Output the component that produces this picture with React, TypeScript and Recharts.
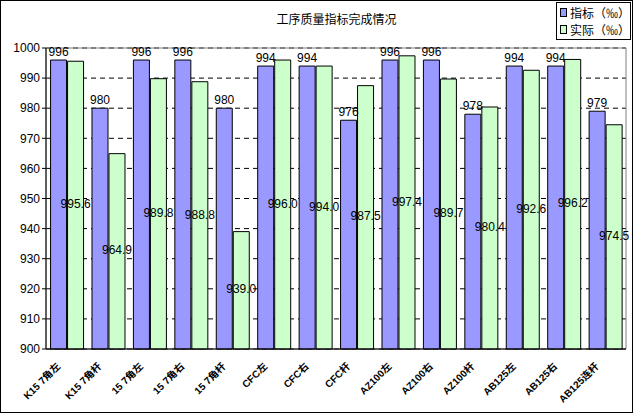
import { Bar, BarChart, CartesianGrid, LabelList, ReferenceArea, XAxis, YAxis } from "recharts"

const categories = [
  "K15 7角左", "K15 7角杆", "15 7角左", "15 7角右", "15 7角杆",
  "CFC左", "CFC右", "CFC杆", "AZ100左", "AZ100右", "AZ100杆",
  "AB125左", "AB125右", "AB125连杆",
]
const target = [996, 980, 996, 996, 980, 994, 994, 976, 996, 996, 978, 994, 994, 979]
const actual = [995.6, 964.9, 989.8, 988.8, 939.0, 996.0, 994.0, 987.5, 997.4, 989.7, 980.4, 992.6, 996.2, 974.5]
const yTicks = [900, 910, 920, 930, 940, 950, 960, 970, 980, 990, 1000]

const data = categories.map((name, i) => ({ name, target: target[i], actual: actual[i] }))

const font = "'Liberation Sans', Arial, 'Noto Sans CJK SC', sans-serif"

const XTick = ({ x, y, payload }: any) => (
  <text
    x={x - 6}
    y={y + 10}
    transform={`rotate(-45 ${x - 6} ${y + 10})`}
    textAnchor="end"
    fontSize={10}
    fontWeight="bold"
    fontFamily={font}
    fill="#000"
  >
    {payload.value}
  </text>
)

// actual values sit in the middle of the green bar
const MidLabel = ({ x, y, width, height, value }: any) => (
  <text x={x + width / 2} y={y + height / 2} textAnchor="middle" dominantBaseline="middle" fontSize={12} fontFamily={font} fill="#000">
    {Number(value).toFixed(1)}
  </text>
)

const legendItems = [
  ["指标（‰）", "#9999FF"],
  ["实际（‰）", "#CCFFCC"],
]

export default function App() {
  return (
    <div style={{ position: "absolute", left: 0, top: 0, width: 633, height: 413, boxSizing: "border-box", border: "1px solid #000", background: "#fff" }}>
      <style>{"body{margin:0}"}</style>
      <div style={{ position: "absolute", left: 0, width: 631, top: 9, textAlign: "center", fontSize: 12, fontFamily: "'Noto Sans CJK SC', sans-serif", paddingLeft: 20 }}>
        工序质量指标完成情况
      </div>
      <div style={{ position: "absolute", left: 555, top: 1, width: 75, height: 38, boxSizing: "border-box", border: "1px solid #000", background: "#fff", padding: "1px 0 0 3px", fontSize: 12, fontFamily: "'Noto Sans CJK SC', sans-serif", lineHeight: "17px", zIndex: 1 }}>
        {legendItems.map(([label, color]) => (
          <div key={label} style={{ display: "flex", alignItems: "center", whiteSpace: "nowrap" }}>
            <span style={{ display: "inline-block", width: 7, height: 7, border: "1px solid #000", background: color, marginRight: 3 }} />
            {label}
          </div>
        ))}
      </div>
      <BarChart
        width={631}
        height={411}
        data={data}
        margin={{ top: 47, right: 6, left: 0, bottom: 0 }}
        barCategoryGap="11%"
        barGap={1}
      >
        <CartesianGrid vertical={false} stroke="#000" strokeDasharray="5 4" />
        <ReferenceArea y1={900} y2={1000} fill="none" stroke="#808080" strokeWidth={1} ifOverflow="extendDomain" />
        <XAxis dataKey="name" interval={0} height={63} tick={<XTick />} tickLine={false} stroke="#000" />
        <YAxis
          domain={[900, 1000]}
          ticks={yTicks}
          interval={0}
          width={45}
          stroke="#000"
          tickSize={4}
          tick={{ fill: "#000", fontSize: 12, fontFamily: font }}
        />
        <Bar dataKey="target" fill="#9999FF" stroke="#000" strokeWidth={1} isAnimationActive={false}>
          <LabelList dataKey="target" position="top" offset={4} style={{ fill: "#000", fontSize: 12, fontFamily: font }} />
        </Bar>
        <Bar dataKey="actual" fill="#CCFFCC" stroke="#000" strokeWidth={1} isAnimationActive={false}>
          <LabelList dataKey="actual" content={<MidLabel />} />
        </Bar>
      </BarChart>
    </div>
  )
}
